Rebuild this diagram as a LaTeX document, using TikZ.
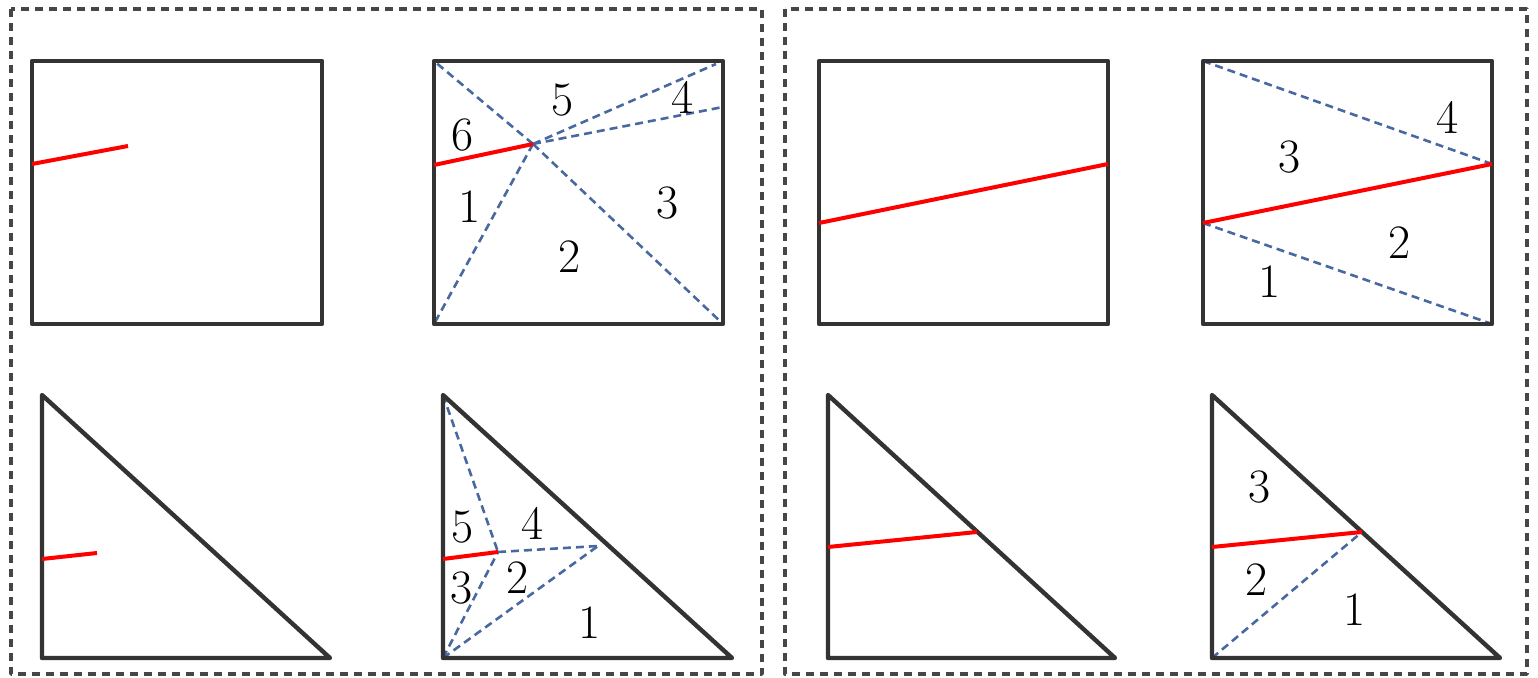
\documentclass[tikz,border=0pt]{standalone}
\definecolor{splitblue}{RGB}{72,104,160}
\definecolor{framegray}{RGB}{70,70,70}

\begin{document}
\begin{tikzpicture}[x=0.5pt, y=-0.5pt, line join=round,
  frame/.style={framegray, line width=1.7pt, dash pattern=on 4pt off 3pt},
  outline/.style={black!80, line width=2.2pt},
  crack/.style={red, line width=2pt},
  split/.style={splitblue, line width=1.3pt, dash pattern=on 4pt off 2.5pt},
  num/.style={font=\fontsize{24}{28}\selectfont, inner sep=0pt}]
  \useasboundingbox (0,0) rectangle (1538,678);

  % outer frames
  \draw[frame] (11,9) rectangle (762,674);
  \draw[frame] (785,9) rectangle (1527,674);

  % panel 1: square, short crack
  \coordinate (A1) at (32,61);
  \coordinate (C1) at (322,324);
  \coordinate (E1) at (32,164);
  \coordinate (F1) at (128,146);
  \draw[outline] (A1) rectangle (C1);
  \draw[crack] (E1)--(F1);

  % panel 2: square, crack tip P joined to corners
  \coordinate (A2) at (434,61);
  \coordinate (B2) at (723,61);
  \coordinate (C2) at (723,324);
  \coordinate (D2) at (434,324);
  \coordinate (E2) at (434,165);
  \coordinate (P2) at (533,144);
  \coordinate (G2) at (716,64);
  \coordinate (H2) at (723,107);
  \draw[split] (P2)--(A2);
  \draw[split] (P2)--(C2);
  \draw[split] (P2)--(D2);
  \draw[split] (P2)--(G2);
  \draw[split] (P2)--(H2);
  \draw[outline] (A2)--(B2)--(C2)--(D2)--cycle;
  \draw[crack] (E2)--(P2);
  \node[num] (s2a) at (470,207) {1};
  \node[num] (s2b) at (570,257) {2};
  \node[num] (s2c) at (668,203) {3};
  \node[num] (s2d) at (683,97)  {4};
  \node[num] (s2e) at (563,100) {5};
  \node[num] (s2f) at (463,135) {6};

  % panel 3: triangle, short crack
  \coordinate (A3) at (42,395);
  \coordinate (B3) at (42,658);
  \coordinate (C3) at (330,658);
  \coordinate (E3) at (42,559);
  \coordinate (F3) at (97,553);
  \draw[outline] (A3)--(B3)--(C3)--cycle;
  \draw[crack] (E3)--(F3);

  % panel 4: triangle, crack tip Q
  \coordinate (A4) at (443,395);
  \coordinate (B4) at (443,658);
  \coordinate (C4) at (732,658);
  \coordinate (E4) at (443,559);
  \coordinate (Q4) at (498,552);
  \coordinate (R4) at (598,546);
  \draw[split] (A4)--(Q4);
  \draw[split] (Q4)--(R4);
  \draw[split] (B4)--(R4);
  \draw[split] (B4)--(Q4);
  \draw[outline] (A4)--(B4)--(C4)--cycle;
  \draw[crack] (E4)--(Q4);
  \node[num] (s4a) at (590,623) {1};
  \node[num] (s4b) at (518,578) {2};
  \node[num] (s4c) at (462,588) {3};
  \node[num] (s4d) at (533,523) {4};
  \node[num] (s4e) at (463,527) {5};

  % panel 5: square, through crack
  \coordinate (A5) at (819,61);
  \coordinate (C5) at (1108,324);
  \coordinate (E5) at (819,223);
  \coordinate (F5) at (1108,164);
  \draw[outline] (A5) rectangle (C5);
  \draw[crack] (E5)--(F5);

  % panel 6: square, through crack with two splits
  \coordinate (A6) at (1203,61);
  \coordinate (B6) at (1492,61);
  \coordinate (C6) at (1492,324);
  \coordinate (D6) at (1203,324);
  \coordinate (E6) at (1203,223);
  \coordinate (F6) at (1492,164);
  \draw[split] (A6)--(F6);
  \draw[split] (E6)--(C6);
  \draw[outline] (A6)--(B6)--(C6)--(D6)--cycle;
  \draw[crack] (E6)--(F6);
  \node[num] (s6a) at (1270,282) {1};
  \node[num] (s6b) at (1400,243) {2};
  \node[num] (s6c) at (1290,157) {3};
  \node[num] (s6d) at (1448,117) {4};

  % panel 7: triangle, through crack
  \coordinate (A7) at (828,395);
  \coordinate (B7) at (828,658);
  \coordinate (C7) at (1115,658);
  \coordinate (E7) at (828,547);
  \coordinate (F7) at (977,532);
  \draw[outline] (A7)--(B7)--(C7)--cycle;
  \draw[crack] (E7)--(F7);

  % panel 8: triangle, through crack with one split
  \coordinate (A8) at (1212,395);
  \coordinate (B8) at (1212,658);
  \coordinate (C8) at (1500,658);
  \coordinate (E8) at (1212,547);
  \coordinate (F8) at (1362,532);
  \draw[split] (B8)--(F8);
  \draw[outline] (A8)--(B8)--(C8)--cycle;
  \draw[crack] (E8)--(F8);
  \node[num] (s8a) at (1355,610) {1};
  \node[num] (s8b) at (1257,580) {2};
  \node[num] (s8c) at (1260,487) {3};
\end{tikzpicture}
\end{document}
